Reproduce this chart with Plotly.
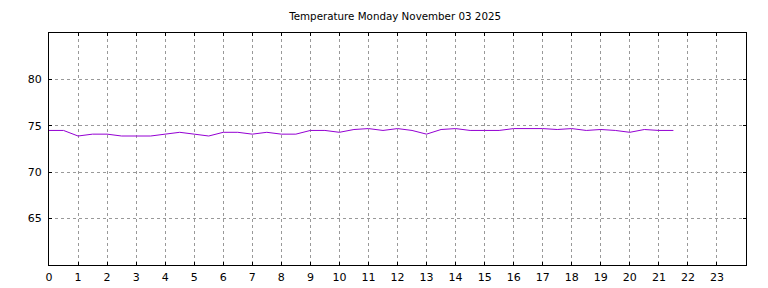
import plotly.graph_objects as go

hours = [i * 0.5 for i in range(44)]
temps = [74.5, 74.5, 73.9, 74.1, 74.1, 73.9, 73.9, 73.9, 74.1, 74.3,
         74.1, 73.9, 74.3, 74.3, 74.1, 74.3, 74.1, 74.1, 74.5, 74.5,
         74.3, 74.6, 74.7, 74.5, 74.7, 74.5, 74.1, 74.6, 74.7, 74.5,
         74.5, 74.5, 74.7, 74.7, 74.7, 74.6, 74.7, 74.5, 74.6, 74.5,
         74.3, 74.6, 74.5, 74.5]
x_ticks = list(range(24))
y_ticks = [65, 70, 75, 80]
title = "Temperature Monday November 03 2025"

fig = go.Figure()
fig.add_trace(go.Scatter(x=hours, y=temps, mode="lines",
                         line=dict(color="#9400D3", width=1), showlegend=False))

axis_common = dict(showline=True, linecolor="black", linewidth=1, mirror="ticks",
                   ticks="inside", ticklen=3, tickcolor="black", automargin=False,
                   showgrid=True, gridcolor="#999999", griddash="dot", gridwidth=1,
                   zeroline=False, tickfont=dict(family="DejaVu Sans", size=11, color="black"))

fig.update_layout(
    width=768, height=288,
    margin=dict(l=49, r=22, t=33, b=23),
    paper_bgcolor="white", plot_bgcolor="white",
    title=dict(text=title, x=0.5145, xanchor="center",
               y=1 - 16 / 288, yanchor="middle",
               font=dict(family="DejaVu Sans", size=10.3, color="black")),
    xaxis=dict(range=[0, 24], tickvals=x_ticks, ticktext=[str(v) for v in x_ticks],
               ticklabelstandoff=2, **axis_common),
    yaxis=dict(range=[60, 85], tickvals=y_ticks, ticktext=[str(v) for v in y_ticks],
               ticklabelstandoff=4, **axis_common),
)

fig.write_html("out.html")
